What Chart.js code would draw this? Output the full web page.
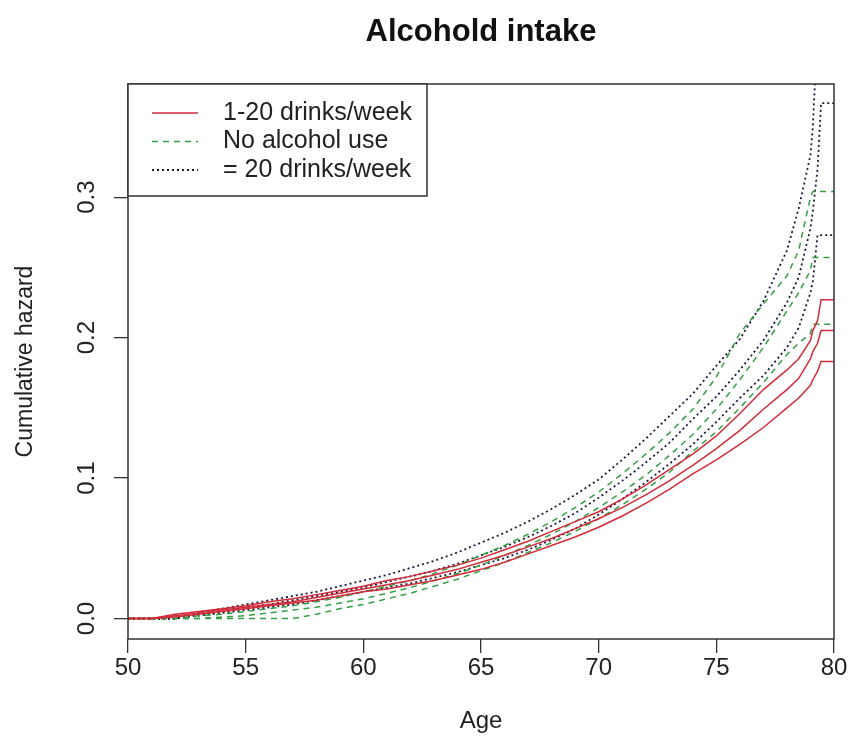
<!DOCTYPE html>
<html>
<head>
<title>Alcohold intake</title>
<script src="https://cdn.jsdelivr.net/npm/chart.js@4"></script>
<style>
  body { margin: 0; background: #fff; }
</style>
</head>
<body>
<canvas id="chart" width="849" height="753"></canvas>
<script>
const ages = [50, 51, 52, 53, 54, 55, 56, 57, 58, 59, 60, 61, 62, 63, 64, 65, 66, 67, 68, 69,
              70, 71, 72, 73, 74, 75, 76, 77, 78, 78.5, 79, 79.1, 79.3, 79.45, 80];

// 1-20 drinks/week: lower CI, estimate, upper CI
const redLo  = [0, 0, 0.001, 0.003, 0.005, 0.007, 0.009, 0.011, 0.013, 0.016, 0.019, 0.021, 0.024, 0.027, 0.031, 0.035, 0.040, 0.046, 0.052, 0.058,
                0.065, 0.073, 0.082, 0.092, 0.103, 0.113, 0.124, 0.136, 0.150, 0.157, 0.166, 0.170, 0.176, 0.183, 0.183];
const redEst = [0, 0, 0.002, 0.004, 0.006, 0.008, 0.010, 0.012, 0.015, 0.018, 0.021, 0.024, 0.027, 0.031, 0.035, 0.040, 0.045, 0.051, 0.057, 0.064,
                0.071, 0.079, 0.088, 0.098, 0.109, 0.121, 0.134, 0.149, 0.163, 0.171, 0.185, 0.190, 0.196, 0.205, 0.205];
const redHi  = [0, 0, 0.003, 0.005, 0.007, 0.009, 0.012, 0.014, 0.017, 0.020, 0.023, 0.027, 0.030, 0.034, 0.038, 0.043, 0.049, 0.055, 0.062, 0.069,
                0.076, 0.085, 0.095, 0.106, 0.117, 0.130, 0.146, 0.163, 0.177, 0.185, 0.198, 0.205, 0.212, 0.227, 0.227];

// No alcohol use
const grLo  = [0, 0, 0, 0, 0, 0, 0, 0, 0.003, 0.007, 0.010, 0.014, 0.018, 0.023, 0.028, 0.034, 0.040, 0.047, 0.054, 0.062,
               0.071, 0.081, 0.092, 0.104, 0.119, 0.133, 0.150, 0.168, 0.188, 0.196, 0.203, 0.2095, 0.2095, 0.2095, 0.2095];
const grEst = [0, 0, 0, 0, 0.001, 0.002, 0.004, 0.006, 0.008, 0.011, 0.014, 0.018, 0.022, 0.027, 0.032, 0.038, 0.045, 0.052, 0.060, 0.069,
               0.079, 0.090, 0.102, 0.116, 0.131, 0.149, 0.170, 0.193, 0.219, 0.232, 0.248, 0.257, 0.257, 0.257, 0.257];
const grHi  = [0, 0, 0, 0.002, 0.003, 0.005, 0.007, 0.009, 0.012, 0.015, 0.019, 0.023, 0.027, 0.032, 0.038, 0.045, 0.052, 0.060, 0.069, 0.079,
               0.090, 0.103, 0.117, 0.132, 0.149, 0.172, 0.203, 0.224, 0.244, 0.262, 0.300, 0.304, 0.304, 0.304, 0.304];

// >= 20 drinks/week
const bkLo  = [0, 0, 0, 0.002, 0.004, 0.006, 0.008, 0.010, 0.013, 0.016, 0.019, 0.022, 0.025, 0.029, 0.033, 0.038, 0.043, 0.049, 0.056, 0.064,
               0.074, 0.085, 0.097, 0.110, 0.124, 0.140, 0.157, 0.173, 0.193, 0.207, 0.232, 0.240, 0.273, 0.273, 0.273];
const bkEst = [0, 0, 0, 0.003, 0.005, 0.008, 0.010, 0.013, 0.016, 0.019, 0.022, 0.026, 0.030, 0.034, 0.039, 0.045, 0.051, 0.058, 0.066, 0.075,
               0.086, 0.098, 0.111, 0.125, 0.142, 0.158, 0.177, 0.198, 0.225, 0.243, 0.278, 0.290, 0.320, 0.367, 0.367];
const bkHi  = [0, 0, 0, 0.004, 0.007, 0.010, 0.013, 0.016, 0.019, 0.023, 0.027, 0.031, 0.036, 0.041, 0.047, 0.054, 0.061, 0.069, 0.078, 0.088,
               0.099, 0.113, 0.128, 0.144, 0.160, 0.180, 0.199, 0.226, 0.262, 0.292, 0.330, 0.350, 0.420, null, null];

const titleText = 'Alcohold intake';
const groupLabels = ['1-20 drinks/week', 'No alcohol use', '= 20 drinks/week'];
const xTicks = [50, 55, 60, 65, 70, 75, 80];
const yTicks = [0, 0.1, 0.2, 0.3];

const groupStyle = [
  { color: '#d22b3a', dash: [] },
  { color: '#33a043', dash: [6, 5] },
  { color: '#1b1b3c', dash: [2, 3] }
];
const groupSeries = [[redLo, redEst, redHi], [grLo, grEst, grHi], [bkLo, bkEst, bkHi]];

const FONT = 'Liberation Sans, Arial, sans-serif';

function toPoints(vals) {
  return ages.map((a, i) => ({ x: a, y: vals[i] }));
}

const datasets = [];
groupSeries.forEach((series, g) => {
  series.forEach(vals => {
    datasets.push({
      label: groupLabels[g],
      data: toPoints(vals),
      borderColor: groupStyle[g].color,
      borderDash: groupStyle[g].dash,
      borderWidth: g === 2 ? 1.8 : 1.5,
      pointRadius: 0,
      fill: false,
      tension: 0
    });
  });
});

// R-style extras: title centred over the plot region, box, legend box
const rPlot = {
  id: 'rplot',
  afterDraw(chart) {
    const ctx = chart.ctx;
    const ca = chart.chartArea;
    ctx.save();

    ctx.fillStyle = '#111';
    ctx.font = 'bold 31px ' + FONT;
    ctx.textAlign = 'center';
    ctx.textBaseline = 'middle';
    ctx.fillText(titleText, (ca.left + ca.right) / 2, 32);

    ctx.strokeStyle = '#333';
    ctx.lineWidth = 1.5;
    ctx.setLineDash([]);
    ctx.strokeRect(ca.left, ca.top, ca.right - ca.left, ca.bottom - ca.top);

    // legend
    const lx = ca.left, ly = ca.top, lw = 299, lh = 112;
    ctx.fillStyle = '#fff';
    ctx.fillRect(lx, ly, lw, lh);
    ctx.strokeRect(lx, ly, lw, lh);
    ctx.font = '25px ' + FONT;
    ctx.textAlign = 'left';
    groupLabels.forEach((txt, i) => {
      const y = ly + 29 + i * 28.5;
      ctx.strokeStyle = groupStyle[i].color;
      ctx.lineWidth = i === 2 ? 1.8 : 1.5;
      ctx.setLineDash(groupStyle[i].dash);
      ctx.beginPath();
      ctx.moveTo(lx + 24, y);
      ctx.lineTo(lx + 70, y);
      ctx.stroke();
      ctx.fillStyle = '#222';
      ctx.fillText(txt, lx + 95, y);
    });
    ctx.restore();
  }
};

const ctx = document.getElementById('chart').getContext('2d');
new Chart(ctx, {
  type: 'line',
  data: { datasets: datasets },
  options: {
    responsive: false,
    animation: false,
    devicePixelRatio: 1,
    layout: { padding: { left: 0, right: 15, top: 84, bottom: 0 } },
    plugins: {
      legend: { display: false },
      tooltip: { enabled: false },
      title: { display: false }
    },
    scales: {
      x: {
        type: 'linear',
        min: 50,
        max: 80,
        afterFit: s => { s.height = 114; },
        afterBuildTicks: s => { s.ticks = xTicks.map(v => ({ value: v })); },
        grid: { drawOnChartArea: false, drawTicks: true, tickLength: 14, color: '#333', lineWidth: 1.3 },
        border: { display: false },
        ticks: { color: '#222', font: { family: FONT, size: 24 }, padding: 1, maxRotation: 0 },
        title: { display: true, text: 'Age', color: '#222', font: { family: FONT, size: 24 }, padding: { bottom: 17 } }
      },
      y: {
        type: 'linear',
        min: -0.0146,
        max: 0.3806,
        afterFit: s => { s.width = 128; },
        afterBuildTicks: s => { s.ticks = yTicks.map(v => ({ value: v })); },
        grid: { drawOnChartArea: false, drawTicks: true, tickLength: 14, color: '#333', lineWidth: 1.3 },
        border: { display: false },
        ticks: {
          color: '#222',
          font: { family: FONT, size: 24 },
          minRotation: 90,
          maxRotation: 90,
          crossAlign: 'center',
          padding: 10,
          callback: v => v.toFixed(1)
        },
        title: { display: true, text: 'Cumulative hazard', color: '#222', font: { family: FONT, size: 23 }, padding: { top: 12 } }
      }
    }
  },
  plugins: [rPlot]
});
</script>
</body>
</html>
